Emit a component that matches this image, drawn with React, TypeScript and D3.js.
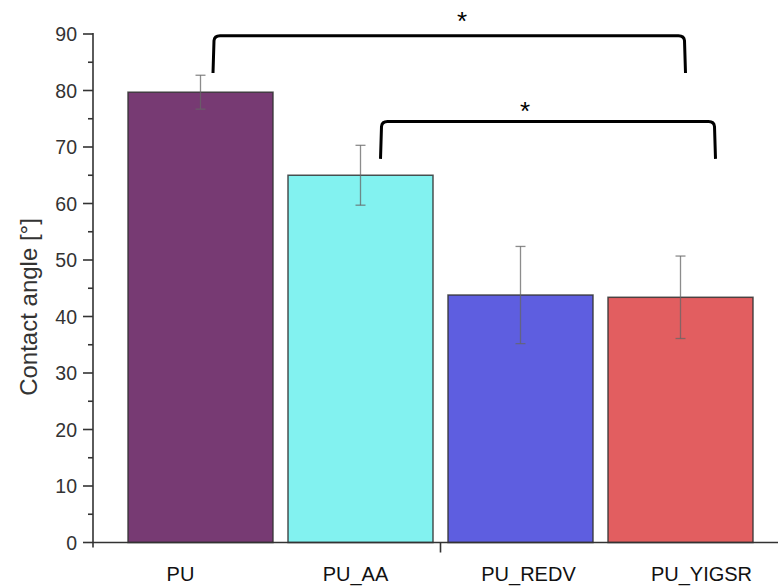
import React from "react";
import * as d3 from "d3";

const categories = ["PU", "PU_AA", "PU_REDV", "PU_YIGSR"];
const means = [79.7, 65.0, 43.8, 43.4];
const errors = [3.0, 5.3, 8.6, 7.3];
const colors = ["#773a73", "#82f2f0", "#5e5ee0", "#e25e60"];
const yTicks = [0, 10, 20, 30, 40, 50, 60, 70, 80, 90];
const yMinorTicks = [5, 15, 25, 35, 45, 55, 65, 75, 85];
const labelOffsets = [-20, -5, 8, 21];

// significance brackets: categories, horizontal level, leg bottom (data units), x offsets from bar centres
const brackets = [
  { from: "PU", to: "PU_YIGSR", top: 89.7, bottom: 83.1, dx0: 12.5, dx1: 5, starDx: 249, starDy: -5.7 },
  { from: "PU_AA", to: "PU_YIGSR", top: 74.5, bottom: 67.9, dx0: 20, dx1: 35, starDx: 144.5, starDy: -1.7 },
];

const W = 778;
const H = 586;

export default function App() {
  const y = d3.scaleLinear().domain([0, 90]).range([542.5, 34]);
  const x = d3.scaleBand<string>().domain(categories).range([128, 753]).paddingInner(0.09375).paddingOuter(0);
  const bw = x.bandwidth();
  const cx = (c: string) => (x(c) as number) + bw / 2;
  const axisX = 93;
  const baseY = y(0);
  const font = "Liberation Sans, Arial, Helvetica, sans-serif";

  return (
    <svg width={W} height={H} style={{ position: "absolute", left: 0, top: 0, background: "#fff" }}>
      {/* bars */}
      {categories.map((c, i) => (
        <rect
          key={c}
          x={x(c)}
          y={y(means[i])}
          width={bw}
          height={baseY - y(means[i])}
          fill={colors[i]}
          stroke="#333"
          strokeOpacity={0.85}
          strokeWidth={1.5}
        />
      ))}
      {/* error bars */}
      {categories.map((c, i) => {
        const px = cx(c);
        const t = y(means[i] + errors[i]);
        const b = y(means[i] - errors[i]);
        return (
          <g key={c + "e"} stroke="#666" strokeOpacity={0.75} strokeWidth={1.3}>
            <line x1={px} x2={px} y1={t} y2={b} />
            <line x1={px - 5} x2={px + 5} y1={t} y2={t} />
            <line x1={px - 5} x2={px + 5} y1={b} y2={b} />
          </g>
        );
      })}
      {/* y axis */}
      <g stroke="#333" strokeWidth={1.6}>
        <line x1={axisX} x2={axisX} y1={y(90) - 1} y2={baseY + 5} />
        {yTicks.map((t) => (
          <line key={t} x1={axisX - 10} x2={axisX} y1={y(t)} y2={y(t)} />
        ))}
        {yMinorTicks.map((t) => (
          <line key={t} x1={axisX - 5} x2={axisX} y1={y(t)} y2={y(t)} />
        ))}
      </g>
      {yTicks.map((t) => (
        <text
          key={t}
          x={axisX - 16}
          y={y(t)}
          dy="0.36em"
          textAnchor="end"
          fontFamily={font}
          fontSize={19.5}
          fill="#333"
        >
          {t}
        </text>
      ))}
      <text
        transform={`translate(37,307) rotate(-90)`}
        textAnchor="middle"
        fontFamily={font}
        fontSize={24}
        fill="#333"
      >
        Contact angle [°]
      </text>
      {/* x axis */}
      <g stroke="#333" strokeWidth={1.6}>
        <line x1={axisX} x2={W} y1={baseY} y2={baseY} />
        <line
          x1={(x("PU_AA") as number) + bw + (x.step() - bw) / 2}
          x2={(x("PU_AA") as number) + bw + (x.step() - bw) / 2}
          y1={baseY}
          y2={baseY + 10}
        />
      </g>
      {categories.map((c, i) => (
        <text
          key={c + "l"}
          x={cx(c) + labelOffsets[i]}
          y={581}
          textAnchor="middle"
          fontFamily={font}
          fontSize={20}
          fill="#111"
        >
          {c}
        </text>
      ))}
      {/* significance brackets */}
      {brackets.map((b, i) => {
        const x0 = cx(b.from) + b.dx0;
        const x1 = cx(b.to) + b.dx1;
        const yt = y(b.top);
        const yb = y(b.bottom);
        const r = 5;
        const d = `M${x0},${yb} L${x0 + 1},${yt + r} Q${x0 + 1.5},${yt} ${x0 + r + 2},${yt} L${x1 - r - 2},${yt} Q${x1 - 1.5},${yt} ${x1 - 1},${yt + r} L${x1},${yb}`;
        return (
          <g key={"br" + i}>
            <path d={d} fill="none" stroke="#000" strokeWidth={3} />
            <text
              x={x0 + b.starDx}
              y={yt - b.starDy * -1}
              textAnchor="middle"
              fontFamily={font}
              fontSize={26}
              fill="#000"
            >
              *
            </text>
          </g>
        );
      })}
    </svg>
  );
}
